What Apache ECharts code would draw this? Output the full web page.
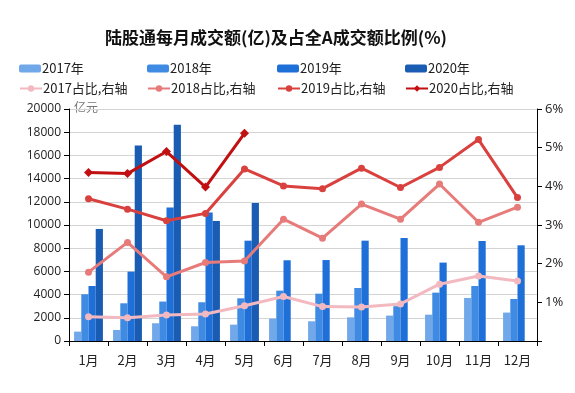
<!DOCTYPE html>
<html><head><meta charset="utf-8">
<script src="https://cdn.jsdelivr.net/npm/echarts@6/dist/echarts.min.js"></script>
<style>html,body{margin:0;padding:0;background:#fff}#c{width:575px;height:393px}</style>
</head><body><div id="c"></div>
<script>
const months = ['1月','2月','3月','4月','5月','6月','7月','8月','9月','10月','11月','12月'];
const amt2017 = [810, 950, 1530, 1270, 1410, 1930, 1700, 2040, 2190, 2270, 3710, 2450];
const amt2018 = [4030, 3250, 3400, 3340, 3680, 4340, 4080, 4570, 3000, 4170, 4740, 3620];
const amt2019 = [4740, 5980, 11500, 11070, 8650, 6960, 6980, 8650, 8880, 6760, 8620, 8250];
const amt2020 = [9660, 16850, 18650, 10350, 11900, null, null, null, null, null, null, null];
const pct2017 = [0.63, 0.60, 0.67, 0.70, 0.91, 1.15, 0.89, 0.88, 0.96, 1.47, 1.68, 1.55];
const pct2018 = [1.78, 2.55, 1.66, 2.03, 2.07, 3.15, 2.66, 3.54, 3.15, 4.06, 3.07, 3.46];
const pct2019 = [3.68, 3.41, 3.11, 3.30, 4.45, 4.01, 3.94, 4.47, 3.97, 4.49, 5.21, 3.71];
const pct2020 = [4.36, 4.33, 4.90, 3.98, 5.37, null, null, null, null, null, null, null];
const leftTicks = {min: 0, max: 20000, interval: 2000};
const rightTicks = {min: 0, max: 6, interval: 1};

const barColors = ['#71a8ea', '#3f8ae2', '#1f6fd8', '#1b5cb3'];
const lineColors = ['#f3b9c1', '#e77b7a', '#d9413f', '#c10f12'];
const names = ['2017年','2018年','2019年','2020年','2017占比,右轴','2018占比,右轴','2019占比,右轴','2020占比,右轴'];
const barData = [amt2017, amt2018, amt2019, amt2020];
const lineData = [pct2017, pct2018, pct2019, pct2020];

const font = '"Noto Sans CJK SC", "Noto Sans", sans-serif';
const legendX = [19, 147, 277, 405];
const legends = [];
names.forEach((n, i) => {
  legends.push({
    data: [n], left: legendX[i % 4], top: i < 4 ? 62 : 82,
    itemWidth: 22, itemHeight: 8, itemGap: 0,
    textStyle: {fontFamily: font, fontSize: 13, color: '#222', padding: [0, 0, 0, -4]},
    padding: 0
  });
});

const series = [];
barData.forEach((d, i) => series.push({
  name: names[i], type: 'bar', data: d, yAxisIndex: 0,
  barGap: '0%', barCategoryGap: '26%',
  itemStyle: {color: barColors[i]}
}));
lineData.forEach((d, i) => series.push({
  name: names[i + 4], type: 'line', data: d, yAxisIndex: 1,
  symbol: i === 3 ? 'diamond' : 'circle', symbolSize: i === 3 ? 9 : 7,
  lineStyle: {color: lineColors[i], width: 3},
  itemStyle: {color: lineColors[i]},
  z: 3
}));

const chart = echarts.init(document.getElementById('c'));
chart.setOption({
  animation: false,
  title: {text: '陆股通每月成交额(亿)及占全A成交额比例(%)', left: 100, top: 24,
    textStyle: {fontFamily: font, fontSize: 17, fontWeight: 'bold', color: '#111'}},
  legend: legends,
  grid: {left: 69, right: 38, top: 109, bottom: 52},
  xAxis: {type: 'category', data: months,
    axisLine: {lineStyle: {color: '#000', width: 1}},
    axisTick: {show: true, length: 5, lineStyle: {color: '#000'}},
    axisLabel: {fontFamily: font, fontSize: 13, color: '#222', margin: 13}},
  yAxis: [
    {type: 'value', min: leftTicks.min, max: leftTicks.max, interval: leftTicks.interval,
      axisLine: {show: true, lineStyle: {color: '#000'}},
      axisTick: {show: true, length: 5, lineStyle: {color: '#000'}},
      splitLine: {lineStyle: {color: '#d4d4d4'}},
      axisLabel: {fontFamily: '"Open Sans", sans-serif', fontSize: 12, color: '#222', margin: 8,
        formatter: v => String(v)}},
    {type: 'value', min: rightTicks.min, max: rightTicks.max, interval: rightTicks.interval, position: 'right',
      axisLine: {show: true, lineStyle: {color: '#000'}},
      axisTick: {show: true, length: 5, lineStyle: {color: '#000'}},
      splitLine: {show: false},
      axisLabel: {fontFamily: '"Open Sans", sans-serif', fontSize: 13, color: '#222', margin: 8,
        formatter: v => v === 0 ? '' : v + '%'}}
  ],
  graphic: [{type: 'text', left: 74, top: 101,
    style: {text: '亿元', fontFamily: '"Noto Sans CJK SC", serif', fontSize: 12, fill: '#777'}}],
  series: series
});
</script></body></html>
